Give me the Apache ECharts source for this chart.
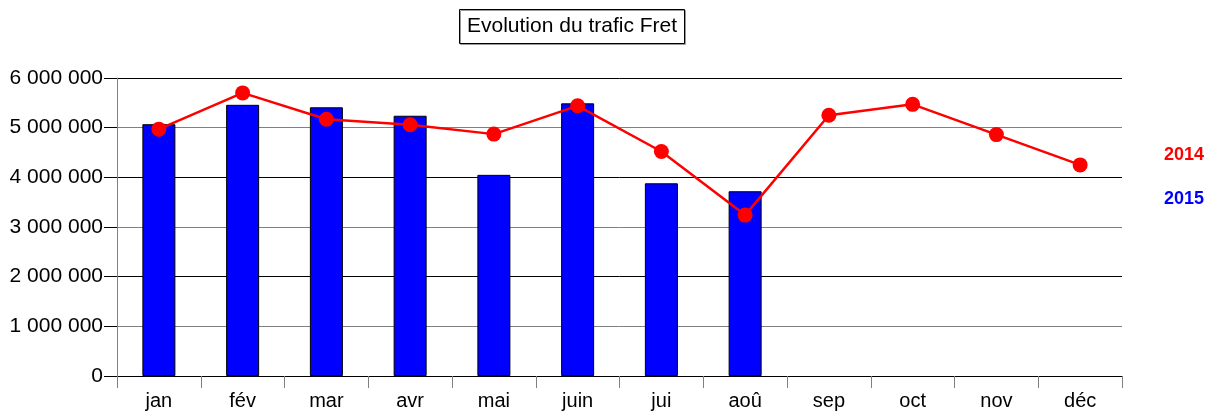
<!DOCTYPE html>
<html>
<head>
<meta charset="utf-8">
<script src="https://cdn.jsdelivr.net/npm/echarts@6/dist/echarts.min.js"></script>
<style>
  html, body { margin: 0; padding: 0; background: #fff; }
  #chart { width: 1215px; height: 414px; }
</style>
</head>
<body>
<div id="chart"></div>
<script>
// ── Data ──
const months = ['jan', 'fév', 'mar', 'avr', 'mai', 'juin', 'jui', 'aoû', 'sep', 'oct', 'nov', 'déc'];
const fret2014 = [4970000, 5700000, 5170000, 5060000, 4870000, 5440000, 4520000, 3240000, 5250000, 5470000, 4860000, 4250000];
const fret2015 = [5070000, 5460000, 5410000, 5240000, 4050000, 5490000, 3880000, 3720000];

const FONT = '"Liberation Sans", Arial, sans-serif';

// thousands separated by a plain space, French style
function fmt(v) {
  return String(v).replace(/\B(?=(\d{3})+(?!\d))/g, ' ');
}

const chart = echarts.init(document.getElementById('chart'));

chart.setOption({
  animation: false,
  backgroundColor: '#fff',
  textStyle: { fontFamily: FONT },
  title: {
    text: 'Evolution du trafic Fret',
    left: 459, top: 9,
    padding: [7, 8],
    borderWidth: 1, borderColor: '#000',
    backgroundColor: '#fff',
    shadowColor: '#999', shadowOffsetX: 1, shadowOffsetY: 1, shadowBlur: 0,
    textStyle: { fontFamily: FONT, fontSize: 21, fontWeight: 'normal', color: '#000' },
  },
  legend: {
    orient: 'vertical',
    left: 1154, top: 141,
    icon: 'none',
    itemWidth: 0, itemHeight: 18, itemGap: 26,
    selectedMode: false,
    textStyle: { fontFamily: FONT, fontSize: 18, fontWeight: 'bold' },
    data: [
      { name: '2014', textStyle: { color: '#ff0000' } },
      { name: '2015', textStyle: { color: '#0000ff' } },
    ],
  },
  grid: { left: 117, right: 93, top: 78, bottom: 38 },
  xAxis: {
    type: 'category',
    data: months,
    boundaryGap: true,
    axisLine: { lineStyle: { color: '#000', width: 1 } },
    axisTick: { show: true, length: 12, lineStyle: { color: '#808080' } },
    axisLabel: { color: '#000', fontSize: 20, fontFamily: FONT, margin: 15 },
  },
  yAxis: {
    type: 'value',
    min: 0, max: 6000000, interval: 1000000,
    axisLine: { show: true, lineStyle: { color: '#808080' } },
    axisTick: { show: true, length: 13, lineStyle: { color: '#000' } },
    axisLabel: { color: '#000', fontSize: 21, fontFamily: FONT, margin: 14, formatter: fmt },
    splitLine: { show: true, lineStyle: { color: ['#000', '#808080'], width: 1 } },
  },
  series: [
    {
      name: '2015',
      type: 'bar',
      data: fret2015,
      barWidth: 33,
      itemStyle: { color: '#0000ff', borderColor: '#000', borderWidth: 1 },
    },
    {
      name: '2014',
      type: 'line',
      data: fret2014,
      symbol: 'circle',
      symbolSize: 15,
      showAllSymbol: true,
      lineStyle: { color: '#ff0000', width: 2.5 },
      itemStyle: { color: '#ff0000' },
    },
  ],
});
</script>
</body>
</html>
